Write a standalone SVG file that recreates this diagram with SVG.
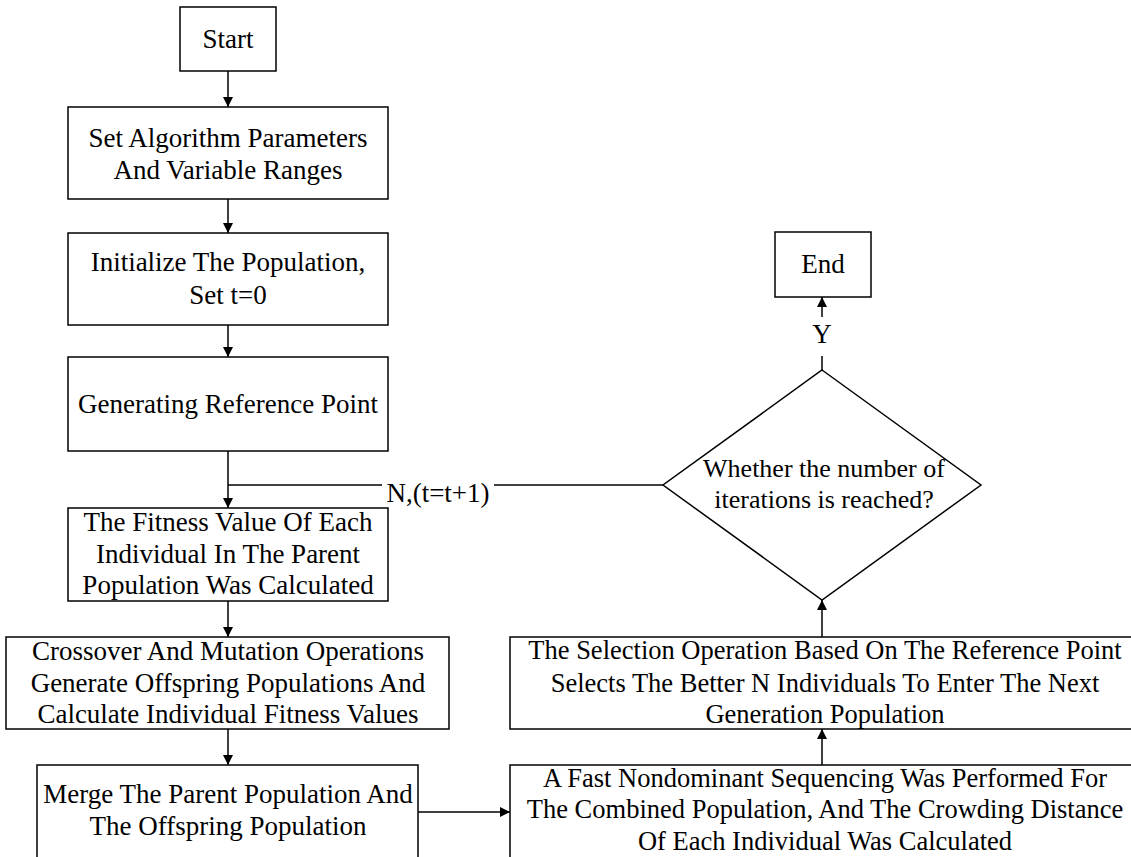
<svg xmlns="http://www.w3.org/2000/svg" width="1131" height="857" viewBox="0 0 1131 857">
<style>
.box{fill:#fff;stroke:#000;stroke-width:1.5}
.t{font-family:'Liberation Serif','Times New Roman',Times,serif;font-size:27px;fill:#000;text-anchor:middle}
.d{font-size:26px}
.r{font-size:26.5px}
.c{fill:none;stroke:#000;stroke-width:1.5}
</style>
<defs>
<marker id="ah" viewBox="0 0 10 10" refX="10" refY="5" markerWidth="10" markerHeight="10" markerUnits="userSpaceOnUse" orient="auto">
<path d="M0,0 L10,5 L0,10 z" fill="#000"/>
</marker>
</defs>
<rect width="1131" height="857" fill="#fff"/>
<g id="connectors">
<line class="c" x1="228" y1="71" x2="228" y2="107" marker-end="url(#ah)"/>
<line class="c" x1="228" y1="199" x2="228" y2="233" marker-end="url(#ah)"/>
<line class="c" x1="228" y1="325" x2="228" y2="357" marker-end="url(#ah)"/>
<line class="c" x1="228" y1="451" x2="228" y2="508" marker-end="url(#ah)"/>
<line class="c" x1="228" y1="601" x2="228" y2="637" marker-end="url(#ah)"/>
<line class="c" x1="228" y1="729" x2="228" y2="765" marker-end="url(#ah)"/>
<line class="c" x1="418" y1="812" x2="510" y2="812" marker-end="url(#ah)"/>
<line class="c" x1="822" y1="765" x2="822" y2="729" marker-end="url(#ah)"/>
<line class="c" x1="822" y1="637" x2="822" y2="600" marker-end="url(#ah)"/>
<line class="c" x1="822" y1="370" x2="822" y2="356"/>
<line class="c" x1="822" y1="317" x2="822" y2="297" marker-end="url(#ah)"/>
<text class="t" x="822" y="343">Y</text>
<line class="c" x1="228" y1="485" x2="382" y2="485"/>
<line class="c" x1="494" y1="485" x2="663" y2="485"/>
<text class="t" x="438" y="502">N,(t=t+1)</text>
</g>
<g id="start">
<rect class="box" x="180" y="7" width="96" height="64"/>
<text class="t" x="228" y="48">Start</text>
</g>
<g id="params">
<rect class="box" x="68" y="107" width="320" height="92"/>
<text class="t" x="228" y="147">Set Algorithm Parameters</text>
<text class="t" x="228" y="179">And Variable Ranges</text>
</g>
<g id="init">
<rect class="box" x="68" y="233" width="320" height="92"/>
<text class="t" x="228" y="271">Initialize The Population,</text>
<text class="t" x="228" y="304">Set t=0</text>
</g>
<g id="refpoint">
<rect class="box" x="68" y="357" width="320" height="94"/>
<text class="t" x="228" y="413">Generating Reference Point</text>
</g>
<g id="fitness">
<rect class="box" x="68" y="508" width="320" height="93"/>
<text class="t" x="228" y="531">The Fitness Value Of Each</text>
<text class="t" x="228" y="563">Individual In The Parent</text>
<text class="t" x="228" y="594">Population Was Calculated</text>
</g>
<g id="crossover">
<rect class="box" x="6" y="637" width="443" height="92"/>
<text class="t" x="228" y="660">Crossover And Mutation Operations</text>
<text class="t" x="228" y="692">Generate Offspring Populations And</text>
<text class="t" x="228" y="723">Calculate Individual Fitness Values</text>
</g>
<g id="merge">
<rect class="box" x="37" y="765" width="381" height="110"/>
<text class="t" x="228" y="803">Merge The Parent Population And</text>
<text class="t" x="228" y="835">The Offspring Population</text>
</g>
<g id="sorting">
<rect class="box" x="510" y="765" width="630" height="110"/>
<text class="t r" x="825" y="787">A Fast Nondominant Sequencing Was Performed For</text>
<text class="t r" x="825" y="818">The Combined Population, And The Crowding Distance</text>
<text class="t r" x="825" y="850">Of Each Individual Was Calculated</text>
</g>
<g id="selection">
<rect class="box" x="510" y="637" width="630" height="92"/>
<text class="t r" x="825" y="659">The Selection Operation Based On The Reference Point</text>
<text class="t r" x="825" y="692">Selects The Better N Individuals To Enter The Next</text>
<text class="t r" x="825" y="723">Generation Population</text>
</g>
<g id="decision">
<polygon class="box" points="822,370 981,485 822,600 663,485"/>
<text class="t d" x="824" y="477">Whether the number of</text>
<text class="t d" x="824" y="508">iterations is reached?</text>
</g>
<g id="end">
<rect class="box" x="775" y="232" width="96" height="65"/>
<text class="t" x="823" y="273">End</text>
</g>
</svg>
